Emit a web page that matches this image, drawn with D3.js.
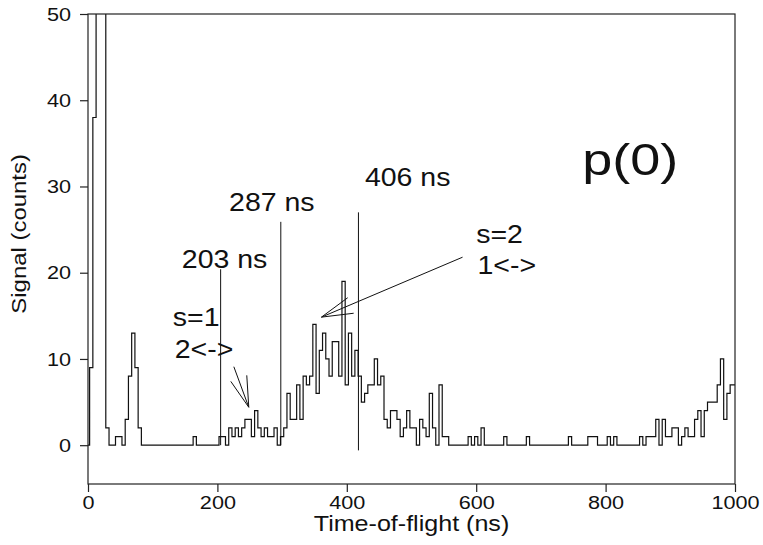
<!DOCTYPE html>
<html>
<head>
<meta charset="utf-8">
<script src="https://cdn.jsdelivr.net/npm/d3@7"></script>
<style>
  body { margin: 0; background: #fff; }
  svg { display: block; font-family: "Liberation Sans", Arial, sans-serif; }
</style>
</head>
<body>
<div id="chart"></div>
<script>
// Data: counts per 5 ns time-of-flight bin (bin centres 0..1000 ns)
const binWidth = 5
const counts = [
  0, 9, 38, 120, 95, 64, 2, 0, 0, 1, 1, 0, 3, 8, 13, 9, 2, 0,          // 0-85
  0, 0, 0, 0, 0, 0, 0, 0, 0, 0, 0, 0, 0, 0, 0,                          // 90-160
  1,                                                                    // 165
  0, 0, 0, 0, 0, 0, 0,                                                  // 170-200
  1, 1, 0, 2, 1, 2, 1, 2, 3, 3, 1, 4, 2, 1, 2, 1, 1, 2, 0, 1,           // 205-300
  2, 6, 3, 3, 7, 3, 8, 7, 8, 14, 6, 11, 13, 10, 8, 12, 12, 8, 19, 7,    // 305-400
  13, 8, 11, 8, 5, 6, 7, 7, 10, 7, 8, 3, 2, 4, 4, 3, 1, 2, 4, 2,        // 405-500
  2, 0, 3, 2, 1, 6, 2, 0, 7, 1, 1,                                      // 505-555
  0, 0, 0, 0, 0, 0,                                                     // 560-585
  1, 0, 1, 0, 2,                                                        // 590-610
  0, 0, 0, 0, 0, 0,                                                     // 615-640
  1,                                                                    // 645
  0, 0, 0, 0, 0, 0,                                                     // 650-675
  1,                                                                    // 680
  0, 0, 0, 0, 0, 0, 0, 0, 0, 0, 0, 0,                                   // 685-740
  1,                                                                    // 745
  0, 0, 0, 0, 0,                                                        // 750-770
  1, 1, 1, 0, 0, 0, 1, 0, 1,                                            // 775-815
  0, 0, 0, 0, 0, 0, 0,                                                  // 820-850
  1, 0, 1, 1, 1, 3, 0, 3, 1, 1, 2, 2, 0, 1, 2, 1, 1, 3, 4, 1,           // 855-950
  4, 5, 5, 5, 7, 10, 3, 6, 7, 7                                         // 955-1000
]

const xTicks = [0, 200, 400, 600, 800, 1000]
const yTicks = [0, 10, 20, 30, 40, 50]

// marker lines at the flight times, with their labels
const markerLabels = ['203 ns', '287 ns', '406 ns']
const markerX = [205, 298, 418]
const markerTop = [20.4, 25.9, 27]
const markerBottom = [0, 0, -0.6]
const markerTextX = [145, 218, 428]
const markerTextY = [20.6, 27.2, 30.1]

// state labels and pointer lines
const stateLines = [['s=1', '2<->'], ['s=2', '1<->']]
const stateTextX = [[131, 134], [600, 602]]
const stateTextY = [[13.8, 10.1], [23.4, 19.8]]
const pointerTip = [[248.5, 4.4], [360.8, 14.85]]
const pointerEnds = [
  [[225.4, 9.1], [220.7, 7.4], [245.4, 8.1]],
  [[578.9, 21.8], [401.4, 17.1], [410.6, 15.3]]
]

// the lettering of the original is a bit wider than Liberation Sans
const stretch = 1.14

function draw() {
  const dataset = counts.map((v, i) => ({ t: i * binWidth, v }))

  // Dimensions
  let dimensions = {
    width: 763,
    height: 545,
    margins: { top: 14, right: 28, bottom: 61, left: 88 }
  }
  dimensions.ctrWidth = dimensions.width - dimensions.margins.left - dimensions.margins.right
  dimensions.ctrHeight = dimensions.height - dimensions.margins.top - dimensions.margins.bottom

  const svg = d3.select('#chart')
    .append('svg')
    .attr('width', dimensions.width)
    .attr('height', dimensions.height)

  const ctr = svg.append('g')
    .attr('transform', `translate(${dimensions.margins.left}, ${dimensions.margins.top})`)

  // Scales
  const xScale = d3.scaleLinear()
    .domain([0, 1000])
    .range([0, dimensions.ctrWidth])

  const yScale = d3.scaleLinear()
    .domain([-4.5, 50])
    .range([dimensions.ctrHeight, 0])

  svg.append('defs').append('clipPath')
    .attr('id', 'plot-clip')
    .append('rect')
    .attr('width', dimensions.ctrWidth)
    .attr('height', dimensions.ctrHeight)

  // helper for wide text
  const label = (parent, x, y, txt, size, sx = stretch) => parent.append('text')
    .attr('transform', `translate(${x}, ${y}) scale(${sx}, 1)`)
    .attr('font-size', size)
    .attr('fill', '#111')
    .text(txt)

  // Histogram as a step line
  const lineGenerator = d3.line()
    .x(d => xScale(d.t))
    .y(d => yScale(d.v))
    .curve(d3.curveStep)

  ctr.append('path')
    .datum(dataset)
    .attr('clip-path', 'url(#plot-clip)')
    .attr('d', lineGenerator)
    .attr('fill', 'none')
    .attr('stroke', '#111')
    .attr('stroke-width', 1.2)

  // Frame
  ctr.append('rect')
    .attr('width', dimensions.ctrWidth)
    .attr('height', dimensions.ctrHeight)
    .attr('fill', 'none')
    .attr('stroke', '#222')
    .attr('stroke-width', 1.2)

  // Axes
  const xAxis = d3.axisBottom(xScale)
    .tickValues(xTicks)
    .tickFormat(d3.format('d'))
    .tickSize(8)
    .tickSizeOuter(0)

  const yAxis = d3.axisLeft(yScale)
    .tickValues(yTicks)
    .tickFormat(d3.format('d'))
    .tickSize(8)
    .tickSizeOuter(0)

  const xAxisGroup = ctr.append('g')
    .attr('transform', `translate(0, ${dimensions.ctrHeight})`)
    .call(xAxis)

  const yAxisGroup = ctr.append('g')
    .call(yAxis)

  ;[xAxisGroup, yAxisGroup].forEach(g => {
    g.select('.domain').remove()
    g.selectAll('line').attr('stroke', '#222').attr('stroke-width', 1.2)
    g.selectAll('text')
      .attr('font-family', '"Liberation Sans", Arial, sans-serif')
      .attr('font-size', 19)
      .attr('fill', '#111')
      .attr('transform', `scale(${stretch}, 1)`)
  })
  xAxisGroup.selectAll('text').attr('y', 12)
  yAxisGroup.selectAll('text').attr('x', -17 / stretch)

  // Axis titles
  label(ctr, dimensions.ctrWidth / 2, dimensions.ctrHeight + 47, 'Time-of-flight (ns)', 22)
    .attr('text-anchor', 'middle')

  ctr.append('text')
    .attr('transform', `translate(${-62}, ${yScale(24.5)}) rotate(-90) scale(${stretch}, 1)`)
    .attr('text-anchor', 'middle')
    .attr('font-size', 21)
    .attr('fill', '#111')
    .text('Signal (counts)')

  // Marker lines and labels
  const markers = ctr.append('g').classed('markers', true)
  markerLabels.forEach((txt, i) => {
    markers.append('line')
      .attr('x1', xScale(markerX[i]))
      .attr('x2', xScale(markerX[i]))
      .attr('y1', yScale(markerTop[i]))
      .attr('y2', yScale(markerBottom[i]))
      .attr('stroke', '#111')
      .attr('stroke-width', 1)
    label(markers, xScale(markerTextX[i]), yScale(markerTextY[i]), txt, 25)
  })

  // State labels with pointer lines
  const states = ctr.append('g').classed('states', true)
  stateLines.forEach((lines, i) => {
    lines.forEach((txt, j) => {
      label(states, xScale(stateTextX[i][j]), yScale(stateTextY[i][j]), txt, 25)
    })
    pointerEnds[i].forEach(p => {
      states.append('line')
        .attr('x1', xScale(pointerTip[i][0]))
        .attr('y1', yScale(pointerTip[i][1]))
        .attr('x2', xScale(p[0]))
        .attr('y2', yScale(p[1]))
        .attr('stroke', '#111')
        .attr('stroke-width', 1)
    })
  })

  // Panel label
  label(ctr, xScale(764), yScale(31.3), 'p(0)', 45, 1.2)
}

draw()
</script>
</body>
</html>
